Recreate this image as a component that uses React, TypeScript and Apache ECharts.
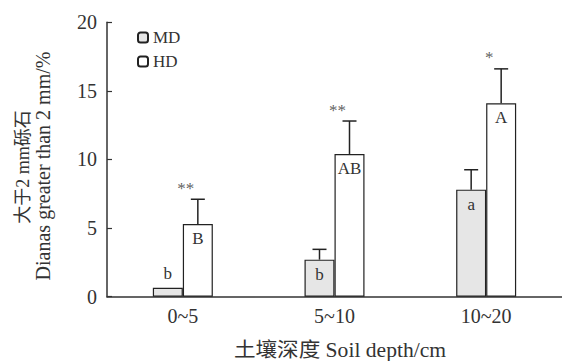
import React, { useEffect, useRef } from "react";
import * as echarts from "echarts";

const categories = ["0~5", "5~10", "10~20"];
const mdValues = [0.65, 2.7, 7.8];
const hdValues = [5.3, 10.4, 14.1];
const mdErrors = [0, 0.75, 1.45];
const hdErrors = [1.8, 2.4, 2.5];
const mdLetters = ["b", "b", "a"];
const hdLetters = ["B", "AB", "A"];
const hdSignif = ["**", "**", "*"];
const yTicks = { min: 0, max: 20, interval: 5 };

const FONT = "'Liberation Serif', 'Times New Roman', 'Noto Sans CJK SC', serif";
const INK = "#333";
const BAR_W = 30;

export default function App() {
  const ref = useRef<HTMLDivElement>(null);
  useEffect(() => {
    if (!ref.current) return;
    const chart = echarts.init(ref.current, undefined, { renderer: "svg" });

    const errData: any[] = [];
    categories.forEach((_, i) => {
      errData.push([i, mdValues[i], mdErrors[i], -1]);
      errData.push([i, hdValues[i], hdErrors[i], 1]);
    });

    const option: any = {
      animation: false,
      backgroundColor: "#fff",
      textStyle: { fontFamily: FONT, color: INK },
      grid: { left: 107, top: 22.2, width: 459, height: 274.5 },
      legend: {
        data: ["MD", "HD"],
        orient: "vertical",
        left: 137,
        top: 29,
        itemWidth: 10,
        itemHeight: 10,
        itemGap: 7,
        padding: 0,
        textStyle: { fontSize: 17, fontFamily: FONT, color: INK },
      },
      xAxis: {
        type: "category",
        data: categories,
        axisLine: { lineStyle: { color: INK, width: 1.5 } },
        axisTick: { show: false },
        axisLabel: { fontSize: 20, fontFamily: FONT, color: INK, margin: 9 },
      },
      yAxis: {
        type: "value",
        min: yTicks.min,
        max: yTicks.max,
        interval: yTicks.interval,
        axisLine: { show: true, lineStyle: { color: INK, width: 1.5 } },
        axisTick: { show: true, inside: true, length: 5, lineStyle: { color: INK, width: 1.2 } },
        axisLabel: { fontSize: 20, fontFamily: FONT, color: INK, margin: 10 },
        splitLine: { show: false },
      },
      graphic: [
        {
          type: "text",
          x: 23,
          y: 167,
          rotation: Math.PI / 2,
          style: {
            text: "大于2 mm砾石",
            font: `18px ${FONT}`,
            fill: INK,
            textAlign: "center",
            textVerticalAlign: "middle",
          },
        },
        {
          type: "text",
          x: 43,
          y: 166,
          rotation: Math.PI / 2,
          style: {
            text: "Dianas greater than 2 mm/%",
            font: `20px ${FONT}`,
            fill: INK,
            textAlign: "center",
            textVerticalAlign: "middle",
          },
        },
        {
          type: "text",
          x: 340,
          y: 350,
          scaleX: 1.08,
          style: {
            text: "土壤深度 Soil depth/cm",
            font: `20px ${FONT}`,
            fill: INK,
            textAlign: "center",
            textVerticalAlign: "middle",
          },
        },
      ],
      series: [
        {
          name: "MD",
          type: "bar",
          data: mdValues.map((v, i) => ({
            value: v,
            label: {
              show: true,
              position: i === 0 ? "top" : "insideTop",
              distance: 6,
              formatter: () => mdLetters[i],
            },
          })),
          barWidth: BAR_W,
          barGap: "0%",
          itemStyle: {
            color: "#e6e6e6",
            borderColor: "#222",
            borderWidth: 1.2,
          },
          label: { fontSize: 17, fontFamily: FONT, color: INK, textBorderWidth: 0 },
        },
        {
          name: "HD",
          type: "bar",
          data: hdValues.map((v, i) => ({
            value: v,
            label: { show: true, position: "insideTop", distance: 6, formatter: () => hdLetters[i] },
          })),
          barWidth: BAR_W,
          barGap: "0%",
          itemStyle: { color: "#fff", borderColor: "#222", borderWidth: 1.2 },
          label: { fontSize: 17, fontFamily: FONT, color: INK, textBorderWidth: 0 },
        },
        {
          type: "custom",
          data: errData,
          z: 5,
          renderItem: (params: any, api: any) => {
            const idx = api.value(0);
            const v = api.value(1);
            const e = api.value(2);
            const sign = api.value(3);
            const p0 = api.coord([idx, v]);
            const p1 = api.coord([idx, v + e]);
            const x = p0[0] + (sign * BAR_W) / 2;
            const children: any[] = [];
            if (e > 0) {
              children.push({
                type: "line",
                shape: { x1: x, y1: p0[1], x2: x, y2: p1[1] },
                style: { stroke: "#222", lineWidth: 1.5 },
              });
              children.push({
                type: "line",
                shape: { x1: x - 7, y1: p1[1], x2: x + 7, y2: p1[1] },
                style: { stroke: "#222", lineWidth: 1.5 },
              });
            }
            return { type: "group", children };
          },
        },
        {
          type: "scatter",
          symbolSize: 0,
          itemStyle: { color: "#333" },
          z: 6,
          data: hdValues.map((v, i) => [i, v + hdErrors[i]]),
          label: {
            show: true,
            position: "inside",
            offset: [3, -11],
            formatter: (p: any) => hdSignif[p.dataIndex],
            fontSize: 17,
            fontFamily: FONT,
            color: INK,
            textBorderWidth: 0,
          },
        },
      ],
    };
    chart.setOption(option);
    return () => chart.dispose();
  }, []);
  return (
    <div
      ref={ref}
      style={{ position: "absolute", left: 0, top: 0, width: 562, height: 361 }}
    />
  );
}
